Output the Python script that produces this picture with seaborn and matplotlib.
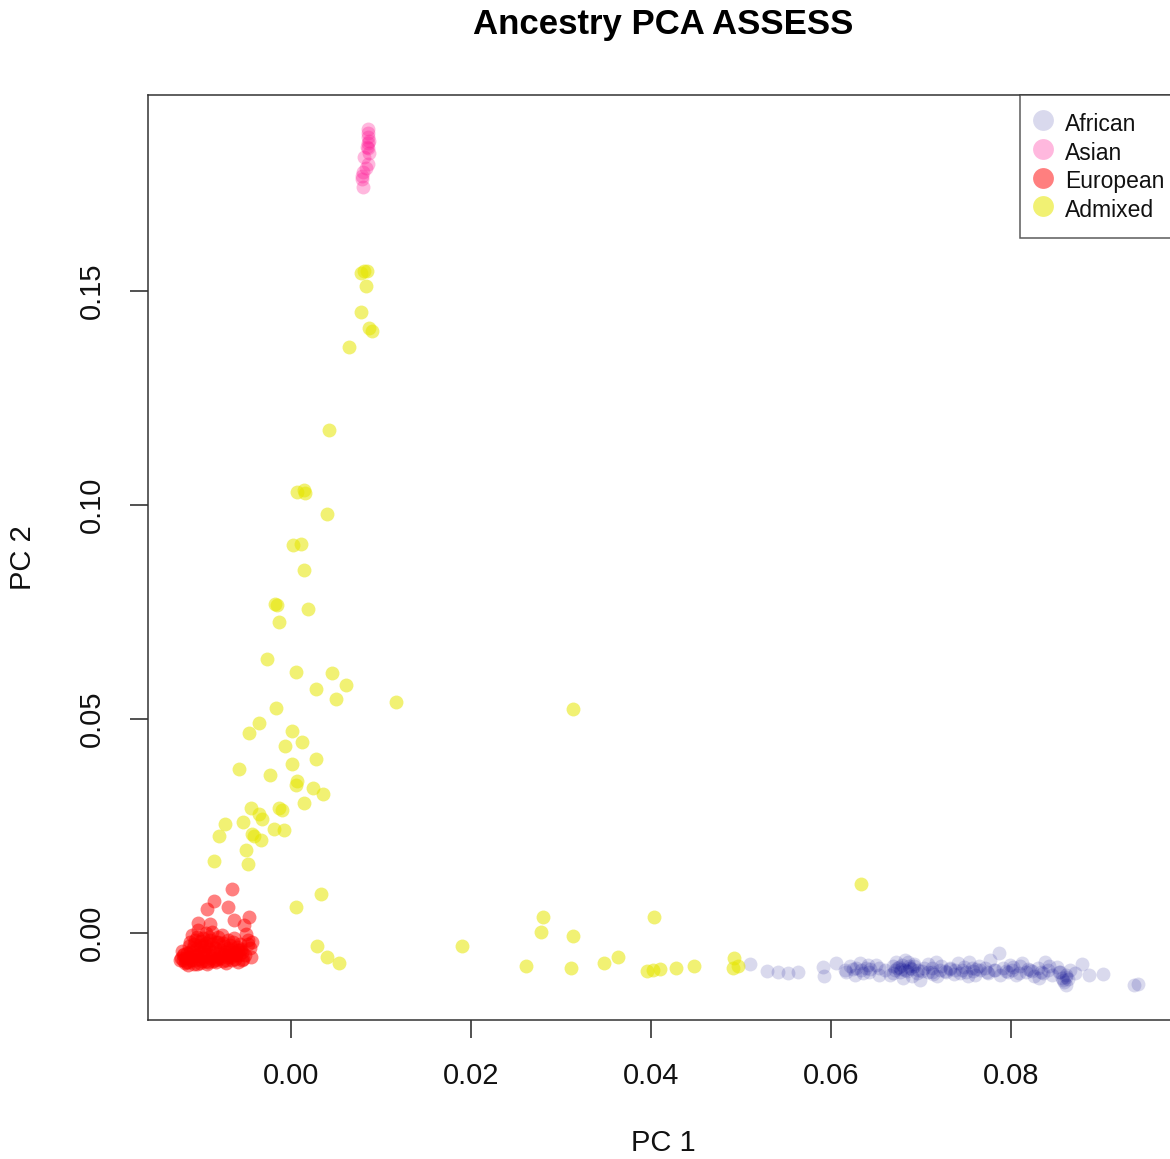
import numpy as np
import pandas as pd
import matplotlib
matplotlib.use("Agg")
import matplotlib.pyplot as plt
import seaborn as sns

# values
african_x = [0.0510, 0.0529, 0.0541, 0.0553, 0.0564, 0.0591, 0.0593, 0.0606, 0.0616, 0.0621,
             0.0627, 0.0632, 0.0634, 0.0639, 0.0643, 0.0650, 0.0654, 0.0660, 0.0666, 0.0669,
             0.0672, 0.0674, 0.0677, 0.0679, 0.0682, 0.0686, 0.0688, 0.0690, 0.0693, 0.0697,
             0.0699, 0.0704, 0.0708, 0.0712, 0.0717, 0.0721, 0.0718, 0.0723, 0.0728, 0.0732,
             0.0737, 0.0741, 0.0746, 0.0750, 0.0754, 0.0757, 0.0760, 0.0766, 0.0771, 0.0774,
             0.0777, 0.0781, 0.0787, 0.0788, 0.0792, 0.0797, 0.0801, 0.0806, 0.0810, 0.0813,
             0.0817, 0.0821, 0.0826, 0.0830, 0.0834, 0.0838, 0.0841, 0.0846, 0.0851, 0.0854,
             0.0857, 0.0859, 0.0861, 0.0861, 0.0866, 0.0871, 0.0879, 0.0887, 0.0903, 0.0937,
             0.0942, 0.0680, 0.0683, 0.0671, 0.0690, 0.0708, 0.0712, 0.0738, 0.0752, 0.0765,
             0.0799, 0.0832, 0.0843, 0.0644, 0.0628, 0.0617, 0.0654,
             0.0676, 0.0685, 0.0669, 0.0692, 0.0678, 0.0687, 0.0727, 0.0733, 0.0744, 0.0748,
             0.0758, 0.0762, 0.0775, 0.0783, 0.0795, 0.0803, 0.0809, 0.0819, 0.0824, 0.0836,
             0.0858, 0.0862, 0.0855, 0.0864, 0.0641, 0.0636, 0.0625, 0.0701, 0.0714, 0.0696]
african_y = [-0.0072, -0.0089, -0.0091, -0.0093, -0.0091, -0.0079, -0.0100, -0.0070, -0.0086, -0.0077,
             -0.0098, -0.0070, -0.0086, -0.0082, -0.0091, -0.0075, -0.0082, -0.0086, -0.0098, -0.0077,
             -0.0068, -0.0082, -0.0091, -0.0075, -0.0086, -0.0068, -0.0082, -0.0100, -0.0077, -0.0086,
             -0.0110, -0.0082, -0.0072, -0.0091, -0.0068, -0.0086, -0.0100, -0.0077, -0.0091, -0.0082,
             -0.0096, -0.0070, -0.0086, -0.0091, -0.0068, -0.0082, -0.0098, -0.0086, -0.0082, -0.0091,
             -0.0063, -0.0086, -0.0047, -0.0098, -0.0082, -0.0091, -0.0086, -0.0098, -0.0077, -0.0070,
             -0.0091, -0.0086, -0.0100, -0.0082, -0.0091, -0.0068, -0.0086, -0.0098, -0.0079, -0.0091,
             -0.0105, -0.0114, -0.0098, -0.0121, -0.0086, -0.0093, -0.0072, -0.0098, -0.0096, -0.0121,
             -0.0119, -0.0105, -0.0063, -0.0086, -0.0084, -0.0091, -0.0082, -0.0086, -0.0100, -0.0077,
             -0.0075, -0.0105, -0.0077, -0.0084, -0.0082, -0.0091, -0.0098,
             -0.0079, -0.0089, -0.0093, -0.0072, -0.0084, -0.0077, -0.0089, -0.0084, -0.0093, -0.0079,
             -0.0089, -0.0084, -0.0093, -0.0086, -0.0089, -0.0079, -0.0093, -0.0084, -0.0089, -0.0093,
             -0.0110, -0.0102, -0.0091, -0.0107, -0.0075, -0.0093, -0.0084, -0.0089, -0.0096, -0.0093]

asian_x = [0.0086, 0.0086, 0.0086, 0.0087, 0.0086, 0.0084, 0.0086, 0.0087, 0.0081, 0.0086,
           0.0083, 0.0080, 0.0079, 0.0079, 0.0080]
asian_y = [0.1879, 0.1869, 0.1860, 0.1850, 0.1846, 0.1836, 0.1834, 0.1822, 0.1813, 0.1797,
           0.1787, 0.1778, 0.1769, 0.1762, 0.1743]

european_x = [-0.0066, -0.0086, -0.0093, -0.0070, -0.0063, -0.0047, -0.0052, -0.0103, -0.0090, -0.0048,
              -0.0046, -0.0051, -0.0059, -0.0068, -0.0073, -0.0079, -0.0084, -0.0090, -0.0096, -0.0101,
              -0.0107, -0.0112, -0.0118, -0.0114, -0.0120, -0.0110, -0.0103, -0.0098, -0.0092, -0.0088,
              -0.0081, -0.0077, -0.0070, -0.0063, -0.0061, -0.0057, -0.0054, -0.0043, -0.0050, -0.0066,
              -0.0072, -0.0083, -0.0101, -0.0109, -0.0117, -0.0106, -0.0097, -0.0086, -0.0074, -0.0064,
              -0.0059, -0.0123, -0.0119, -0.0112, -0.0094, -0.0079, -0.0071, -0.0107, -0.0089, -0.0104,
              -0.0095, -0.0085, -0.0078, -0.0060, -0.0055, -0.0065, -0.0100, -0.0113, -0.0091, -0.0081,
              -0.0069, -0.0105, -0.0095, -0.0045, -0.0048, -0.0115, -0.0120,
              -0.0122, -0.0118, -0.0111, -0.0108, -0.0102, -0.0099, -0.0093, -0.0087, -0.0082, -0.0076,
              -0.0072, -0.0067, -0.0062, -0.0058, -0.0053, -0.0116, -0.0110, -0.0104, -0.0098, -0.0092,
              -0.0087, -0.0080, -0.0075, -0.0069, -0.0064, -0.0057, -0.0121, -0.0113, -0.0106, -0.0099,
              -0.0094, -0.0088, -0.0083, -0.0076, -0.0070, -0.0061, -0.0056, -0.0108, -0.0100, -0.0091]
european_y = [0.0103, 0.0075, 0.0056, 0.0061, 0.0030, 0.0037, 0.0019, 0.0023, 0.0021, -0.0016,
              -0.0035, -0.0051, -0.0040, -0.0028, -0.0044, -0.0058, -0.0035, -0.0016, -0.0051, -0.0028,
              -0.0063, -0.0044, -0.0058, -0.0075, -0.0063, -0.0005, 0.0007, -0.0012, -0.0068, 0.0002,
              -0.0021, -0.0005, -0.0016, -0.0012, -0.0051, -0.0026, -0.0063, -0.0021, -0.0002, -0.0063,
              -0.0070, -0.0068, -0.0070, -0.0035, -0.0068, -0.0051, -0.0040, -0.0051, -0.0030, -0.0044,
              -0.0068, -0.0063, -0.0049, -0.0021, -0.0030, -0.0040, -0.0056, -0.0016, -0.0058, -0.0072,
              -0.0065, -0.0062, -0.0048, -0.0032, -0.0045, -0.0020, -0.0045, -0.0055, -0.0038, -0.0010,
              -0.0050, -0.0008, 0.0000, -0.0055, -0.0025, -0.0067, -0.0052,
              -0.0058, -0.0070, -0.0062, -0.0072, -0.0060, -0.0066, -0.0072, -0.0066, -0.0060, -0.0066,
              -0.0062, -0.0056, -0.0060, -0.0052, -0.0060, -0.0046, -0.0054, -0.0050, -0.0056, -0.0048,
              -0.0044, -0.0054, -0.0050, -0.0040, -0.0052, -0.0040, -0.0042, -0.0030, -0.0036, -0.0030,
              -0.0024, -0.0026, -0.0020, -0.0024, -0.0034, -0.0044, -0.0038, -0.0025, -0.0018, -0.0008]

admixed_x = [0.0081, 0.0084, 0.0078, 0.0083, 0.0078, 0.0087, 0.0090, 0.0064, 0.0042, 0.0007,
             0.0014, 0.0016, 0.0040, 0.0002, 0.0011, 0.0014, -0.0018, -0.0016, 0.0019, -0.0013,
             -0.0027, 0.0006, 0.0046, 0.0028, 0.0061, 0.0050, 0.0117, -0.0017, -0.0036, -0.0047,
             0.0001, 0.0012, -0.0007, 0.0028, 0.0001, -0.0058, -0.0023, 0.0007, 0.0006, 0.0024,
             0.0036, 0.0014, -0.0044, -0.0013, -0.0010, -0.0036, -0.0032, -0.0053, -0.0073, -0.0080,
             -0.0043, -0.0041, -0.0019, -0.0008, -0.0033, -0.0050, -0.0086, -0.0048, 0.0033, 0.0006,
             0.0029, 0.0040, 0.0053, 0.0313, 0.0634, 0.0190, 0.0261, 0.0280, 0.0278, 0.0314,
             0.0311, 0.0348, 0.0363, 0.0404, 0.0396, 0.0402, 0.0410, 0.0428, 0.0448, 0.0492,
             0.0491, 0.0497]
admixed_y = [0.1547, 0.1547, 0.1542, 0.1512, 0.1451, 0.1414, 0.1407, 0.1369, 0.1175, 0.1030,
             0.1035, 0.1028, 0.0979, 0.0907, 0.0909, 0.0848, 0.0769, 0.0766, 0.0757, 0.0727,
             0.0640, 0.0610, 0.0607, 0.0570, 0.0579, 0.0547, 0.0540, 0.0526, 0.0491, 0.0467,
             0.0472, 0.0446, 0.0437, 0.0407, 0.0395, 0.0383, 0.0369, 0.0355, 0.0346, 0.0339,
             0.0325, 0.0304, 0.0292, 0.0292, 0.0287, 0.0278, 0.0266, 0.0259, 0.0255, 0.0227,
             0.0231, 0.0227, 0.0243, 0.0241, 0.0217, 0.0194, 0.0168, 0.0161, 0.0091, 0.0061,
             -0.0030, -0.0056, -0.0070, 0.0523, 0.0114, -0.0030, -0.0077, 0.0037, 0.0002, -0.0007,
             -0.0082, -0.0070, -0.0056, 0.0037, -0.0089, -0.0086, -0.0084, -0.0082, -0.0077, -0.0058,
             -0.0082, -0.0077]

groups = ["African", "Asian", "European", "Admixed"]
colors = {"African": "#00008b", "Asian": "#ff1493", "European": "#ff0000", "Admixed": "#e6e600"}
alphas = {"African": 0.15, "Asian": 0.3, "European": 0.5, "Admixed": 0.55}

df = pd.concat([
    pd.DataFrame({"PC1": african_x, "PC2": african_y, "group": "African"}),
    pd.DataFrame({"PC1": asian_x, "PC2": asian_y, "group": "Asian"}),
    pd.DataFrame({"PC1": european_x, "PC2": european_y, "group": "European"}),
    pd.DataFrame({"PC1": admixed_x, "PC2": admixed_y, "group": "Admixed"}),
])

sns.set_style("ticks")
plt.rcParams["font.family"] = ["Liberation Sans", "DejaVu Sans"]

fig = plt.figure(figsize=(11.7, 11.59), dpi=100)
ax = fig.add_axes([148 / 1170, 139 / 1159, 1030 / 1170, 925 / 1159])

for g in groups:
    sns.scatterplot(data=df[df.group == g], x="PC1", y="PC2", color=colors[g],
                    alpha=alphas[g], s=100, linewidth=0, label=g, ax=ax)

ax.set_xlim(-0.0159, 0.0986)
ax.set_ylim(-0.0203, 0.1958)
ax.set_xticks([0.00, 0.02, 0.04, 0.06, 0.08])
ax.set_yticks([0.00, 0.05, 0.10, 0.15])
ax.set_xticklabels(["0.00", "0.02", "0.04", "0.06", "0.08"])
ax.set_yticklabels(["0.00", "0.05", "0.10", "0.15"], rotation=90, va="center")
ax.tick_params(length=13, width=1.1, pad=17, labelsize=21, colors="#222222", labelcolor="#111111")
for sp in ax.spines.values():
    sp.set_color("#333333")
    sp.set_linewidth(1.1)

ax.set_xlabel("PC 1", fontsize=21, color="#111111")
ax.set_ylabel("PC 2", fontsize=21, color="#111111")
ax.xaxis.set_label_coords(0.5, -0.118)
ax.yaxis.set_label_coords(-0.108, 0.5)
ax.set_title("Ancestry PCA ASSESS", fontsize=25, fontweight="bold", pad=44, color="black")

leg = ax.legend(loc="upper right", bbox_to_anchor=(1.0, 1.0), borderaxespad=0,
                fontsize=16.5, frameon=True, fancybox=False, markerscale=1.5,
                handletextpad=0.55, borderpad=0.6, labelspacing=0.0,
                handlelength=0.82, handleheight=1.56)
leg.get_frame().set_edgecolor("#333333")
leg.get_frame().set_linewidth(1.1)
for t in leg.get_texts():
    t.set_color("#111111")

fig.savefig("out.png", dpi=100)
